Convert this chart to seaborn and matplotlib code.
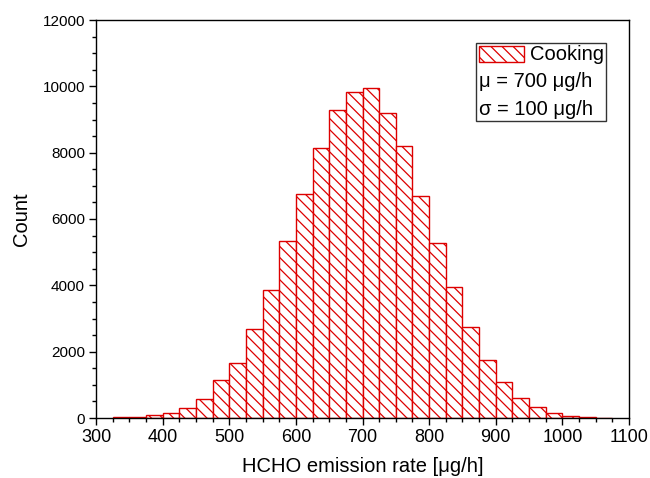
import numpy as np
import pandas as pd
import matplotlib
matplotlib.use("Agg")
import matplotlib.pyplot as plt
import seaborn as sns
from matplotlib.patches import Rectangle
from matplotlib.offsetbox import AnchoredOffsetbox, VPacker, HPacker, TextArea, DrawingArea
from matplotlib.ticker import MultipleLocator

# ---- data ----
bin_edges = [325, 350, 375, 400, 425, 450, 475, 500, 525, 550, 575, 600, 625, 650,
             675, 700, 725, 750, 775, 800, 825, 850, 875, 900, 925, 950, 975, 1000,
             1025, 1050, 1075]
counts = [20, 35, 80, 150, 310, 580, 1135, 1660, 2670, 3850, 5330, 6740, 8140,
          9300, 9820, 9960, 9210, 8190, 6700, 5280, 3950, 2740, 1740, 1095, 590,
          320, 150, 70, 30, 15]
legend_label = "Cooking"
mu_text = "μ = 700 μg/h"
sigma_text = "σ = 100 μg/h"
x_label = "HCHO emission rate [μg/h]"
y_label = "Count"

centers = [(a + b) / 2 for a, b in zip(bin_edges[:-1], bin_edges[1:])]
df = pd.DataFrame({"rate": centers, "count": counts})

sns.set_style("ticks")
plt.rcParams["font.family"] = ["Liberation Sans", "DejaVu Sans"]
plt.rcParams["hatch.color"] = "#e8282a"
plt.rcParams["hatch.linewidth"] = 0.9

RED = "#dd0000"

fig = plt.figure(figsize=(6.5, 4.78), dpi=100)
ax = fig.add_axes([96 / 650, 1 - 418 / 478, (629 - 96) / 650, (418 - 20) / 478])

sns.histplot(data=df, x="rate", weights="count", bins=bin_edges, ax=ax,
             fill=True, alpha=1, linewidth=1.0)
for p in ax.patches:
    p.set_facecolor("white")
    p.set_edgecolor(RED)
    p.set_hatch("\\\\\\")
    p.set_linewidth(1.0)

ax.set_xlim(300, 1100)
ax.set_ylim(0, 12000)
ax.xaxis.set_major_locator(MultipleLocator(100))
ax.xaxis.set_minor_locator(MultipleLocator(25))
ax.yaxis.set_major_locator(MultipleLocator(2000))
ax.yaxis.set_minor_locator(MultipleLocator(500))
ax.tick_params(axis="both", which="major", direction="out", length=5, width=1,
               color="black", labelcolor="black", pad=3)
ax.tick_params(axis="x", which="major", labelsize=13)
ax.tick_params(axis="y", which="major", labelsize=11)
ax.tick_params(axis="both", which="minor", direction="out", length=3, width=1,
               color="black")
for s in ax.spines.values():
    s.set_visible(True)
    s.set_color("black")
    s.set_linewidth(1.0)

ax.set_xlabel(x_label, fontsize=14.5, color="black", labelpad=8)
ax.set_ylabel(y_label, fontsize=14.5, color="black", labelpad=8)

# ---- legend box ----
da = DrawingArea(33, 11.5, 0, 0)
rect = Rectangle((0, 0), 33, 11.5, facecolor="white", edgecolor=RED,
                 hatch="\\\\\\", linewidth=1.0)
da.add_artist(rect)
tp = dict(fontsize=14.5, color="black")
row1 = HPacker(children=[da, TextArea(legend_label, textprops=tp)],
               align="center", pad=0, sep=4)
box = VPacker(children=[row1, TextArea(mu_text, textprops=tp),
                        TextArea(sigma_text, textprops=tp)],
              align="left", pad=0, sep=6.3)
anch = AnchoredOffsetbox(loc="upper right", child=box, pad=0.15, borderpad=0,
                         frameon=True,
                         bbox_to_anchor=(606 / 650, 1 - 42.5 / 478),
                         bbox_transform=fig.transFigure)
anch.patch.set_boxstyle("square,pad=0")
anch.patch.set_edgecolor("#333333")
anch.patch.set_linewidth(1.0)
ax.add_artist(anch)

fig.savefig("out.png", dpi=100)
